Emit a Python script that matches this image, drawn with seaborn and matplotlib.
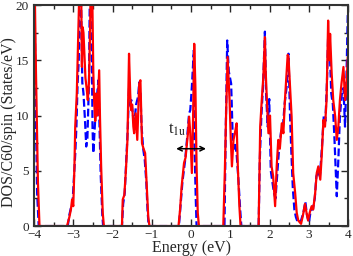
import numpy as np
import pandas as pd
import matplotlib
matplotlib.use("Agg")
import matplotlib.pyplot as plt
from matplotlib.ticker import MultipleLocator
import seaborn as sns

sns.set_style("ticks")
plt.rcParams['font.family'] = ['Liberation Serif', 'DejaVu Serif']
plt.rcParams['mathtext.fontset'] = 'stix'

# ---- spin-up DOS (red, solid) ----
energy_up = [-4.0, -3.95, -3.9, -3.86, -3.16, -3.10, -3.06, -3.03, -3.0, -2.97, -2.95, -2.91,
             -2.86, -2.83, -2.80, -2.78, -2.76, -2.74, -2.71, -2.69, -2.66, -2.63, -2.60, -2.57,
             -2.55, -2.52, -2.49, -2.47, -2.44, -2.42, -2.39, -2.36, -2.34, -2.32, -2.29, -2.25,
             -2.22, -1.76, -1.74, -1.70, -1.66, -1.62, -1.58, -1.55, -1.53, -1.50, -1.47, -1.45,
             -1.41, -1.37, -1.34, -1.32, -1.29, -1.25, -1.21, -1.17, -1.13, -1.09, -1.06,
             -0.32, -0.28, -0.24, -0.18, -0.14, -0.08, -0.05, -0.02, 0.02, 0.05, 0.08, 0.11,
             0.14, 0.17, 0.20, 0.82, 0.86, 0.89, 0.93, 0.96, 0.98, 1.01, 1.04, 1.08, 1.12,
             1.16, 1.19, 1.23, 1.26, 1.72, 1.76, 1.80, 1.84, 1.88, 1.90, 1.93, 1.97, 2.01,
             2.05, 2.09, 2.14, 2.18, 2.22, 2.26, 2.31, 2.35, 2.39, 2.43, 2.46, 2.48, 2.52,
             2.56, 2.60, 2.65, 2.69, 2.73, 2.80, 2.85, 2.90, 2.94, 2.98, 3.02, 3.07, 3.11,
             3.16, 3.20, 3.24, 3.29, 3.33, 3.37, 3.41, 3.45, 3.49, 3.52, 3.54, 3.58, 3.62,
             3.67, 3.71, 3.75, 3.79, 3.83, 3.88, 3.92, 3.95, 3.99]
dos_up = [26, 14, 4, 0, 0, 0.8, 1.5, 2.4, 1.8, 5.4, 9.0, 12,
          19, 24, 22, 14.4, 18, 17.5, 15, 13.4, 12.5, 11.4, 13, 18,
          24, 22, 14, 11.4, 9.5, 12, 10, 12.5, 14.1, 9.9, 5.4, 1.2,
          0, 0, 2.4, 2.8, 5, 7.8, 15.6, 12, 10.5, 11, 9, 8.4,
          10.2, 7.8, 11, 12.9, 13.2, 7.5, 7, 6.6, 3.6, 0.8, 0,
          0, 1.5, 3.6, 5.7, 6.2, 8.4, 9.9, 8.4, 4.8, 9.6, 16.5, 12.6,
          5.4, 1.2, 0, 0, 5, 9.9, 15.3, 13, 11.4, 8, 5.4, 7.8, 8.5,
          9.3, 5.4, 1.8, 0, 0, 9, 11.4, 13.5, 17.1, 14, 11.4, 8.4, 10,
          5.4, 4.5, 1.8, 5.4, 7.8, 7, 9.3, 8.4, 11.4, 13.8, 15.5, 15.3, 12.6,
          9.9, 4.8, 3, 1.2, 0.5, 0.2, 1.0, 2.0, 1.2, 0.5, 1.2, 1.8, 1.5,
          3, 4.8, 5.4, 4.2, 6.6, 9.6, 9.0, 11.4, 18.6, 15, 17.4, 13.8, 11.4,
          9.9, 7.8, 9, 11.4, 12.9, 14.4, 11.4, 12, 15.3]

# ---- spin-down DOS (blue, dashed) ----
energy_dn = [-4.0, -3.96, -3.92, -3.88, -3.14, -3.10, -3.05, -3.02, -2.98, -2.95, -2.92, -2.89,
             -2.86, -2.83, -2.80, -2.77, -2.74, -2.70, -2.67, -2.64, -2.60, -2.57, -2.54, -2.51,
             -2.49, -2.46, -2.42, -2.39, -2.36, -2.33, -2.30, -2.26, -2.24, -1.76, -1.73, -1.69,
             -1.65, -1.61, -1.58, -1.55, -1.52, -1.48, -1.44, -1.40, -1.35, -1.32, -1.29, -1.26,
             -1.22, -1.18, -1.14, -1.11, -1.08, -0.31, -0.27, -0.22, -0.15, -0.10, -0.05, -0.02,
             0.02, 0.05, 0.07, 0.08, 0.10, 0.12, 0.14, 0.85, 0.88, 0.92, 0.96, 1.02, 1.06,
             1.09, 1.12, 1.16, 1.20, 1.25, 1.28, 1.72, 1.75, 1.79, 1.83, 1.88, 1.91, 1.95,
             1.99, 2.03, 2.07, 2.11, 2.15, 2.19, 2.24, 2.29, 2.34, 2.38, 2.43, 2.48, 2.52,
             2.55, 2.59, 2.63, 2.67, 2.72, 2.80, 2.86, 2.91, 2.95, 3.00, 3.05, 3.10, 3.15,
             3.19, 3.24, 3.28, 3.33, 3.38, 3.42, 3.46, 3.49, 3.53, 3.57, 3.61, 3.65, 3.69,
             3.71, 3.75, 3.79, 3.84, 3.88, 3.92, 3.96, 3.99]
dos_dn = [26, 12, 3, 0, 0, 1.0, 1.8, 2.0, 4.5, 6.5, 9, 12.9,
          15, 24, 20, 13, 12, 9.5, 7.2, 8, 13, 24, 22, 9,
          6.6, 8.5, 11, 12, 13.2, 9, 4.5, 1.0, 0, 0, 2, 3,
          6, 9, 12.5, 11, 11.4, 10, 9.5, 11, 11.7, 13, 12, 9,
          7, 6, 4, 1.5, 0, 0, 1.8, 4, 6, 8, 10.2, 10.5,
          12.6, 14.5, 15.9, 8, 5.4, 2.4, 0, 0, 8, 16.8, 14, 12.9, 8.0,
          7, 7.5, 6.5, 4.5, 1.5, 0, 0, 6, 10, 12.5, 17.6, 12, 9,
          11.5, 5, 4, 3, 2.5, 4.5, 7, 8.5, 9, 11, 12.5, 15.6, 10,
          7, 3.5, 1.5, 0.8, 0.3, 0.5, 1.2, 2.2, 1.0, 0.3, 1.5, 1.5, 2.5,
          4.5, 5, 4.5, 7, 10, 9.5, 13, 17.2, 16, 12, 11, 8, 4.5,
          2.7, 6, 10, 12, 12.5, 9.0, 14, 19.2]

x_ticks = [-4, -3, -2, -1, 0, 1, 2, 3, 4]
y_ticks = [0, 5, 10, 15, 20]

df_up = pd.DataFrame({"E": energy_up, "DOS": dos_up})
df_dn = pd.DataFrame({"E": energy_dn, "DOS": dos_dn})

fig = plt.figure(figsize=(3.53, 2.56), dpi=100)
ax = fig.add_axes([0.0963, 0.117, 0.89, 0.863])

sns.lineplot(data=df_dn, x="E", y="DOS", ax=ax, color="#0000ff", lw=1.6,
             linestyle=(0, (3.5, 1.5)), estimator=None, sort=False)
sns.lineplot(data=df_up, x="E", y="DOS", ax=ax, color="#ff0000", lw=1.6,
             estimator=None, sort=False)

ax.set_xlim(-4, 4)
ax.set_ylim(0, 20)
ax.set_xticks(x_ticks)
ax.set_yticks(y_ticks)
ax.xaxis.set_minor_locator(MultipleLocator(0.5))
ax.yaxis.set_minor_locator(MultipleLocator(2.5))
ax.tick_params(which="both", direction="in", top=True, right=True, labelsize=9.5, width=1)
ax.tick_params(which="major", length=5)
ax.tick_params(which="minor", length=3)
ax.tick_params(axis="x", pad=2)
ax.tick_params(axis="y", pad=3.5)
for s in ax.spines.values():
    s.set_linewidth(1.5)
    s.set_color("#333333")

ax.set_xlabel("Energy (eV)", fontsize=11.5, labelpad=-0.5)
ax.set_ylabel("DOS/C60/spin (States/eV)", fontsize=11.5)
ax.yaxis.set_label_coords(-0.054, 0.47)

ax.annotate("", xy=(-0.38, 7.0), xytext=(0.38, 7.0),
            arrowprops=dict(arrowstyle="<->", color="black", lw=1.1,
                            mutation_scale=8, shrinkA=0, shrinkB=0))
ax.text(-0.58, 8.0, r"t$_{\rm 1u}$", fontsize=12, ha="left", va="bottom")

fig.savefig("out.png", dpi=100)
